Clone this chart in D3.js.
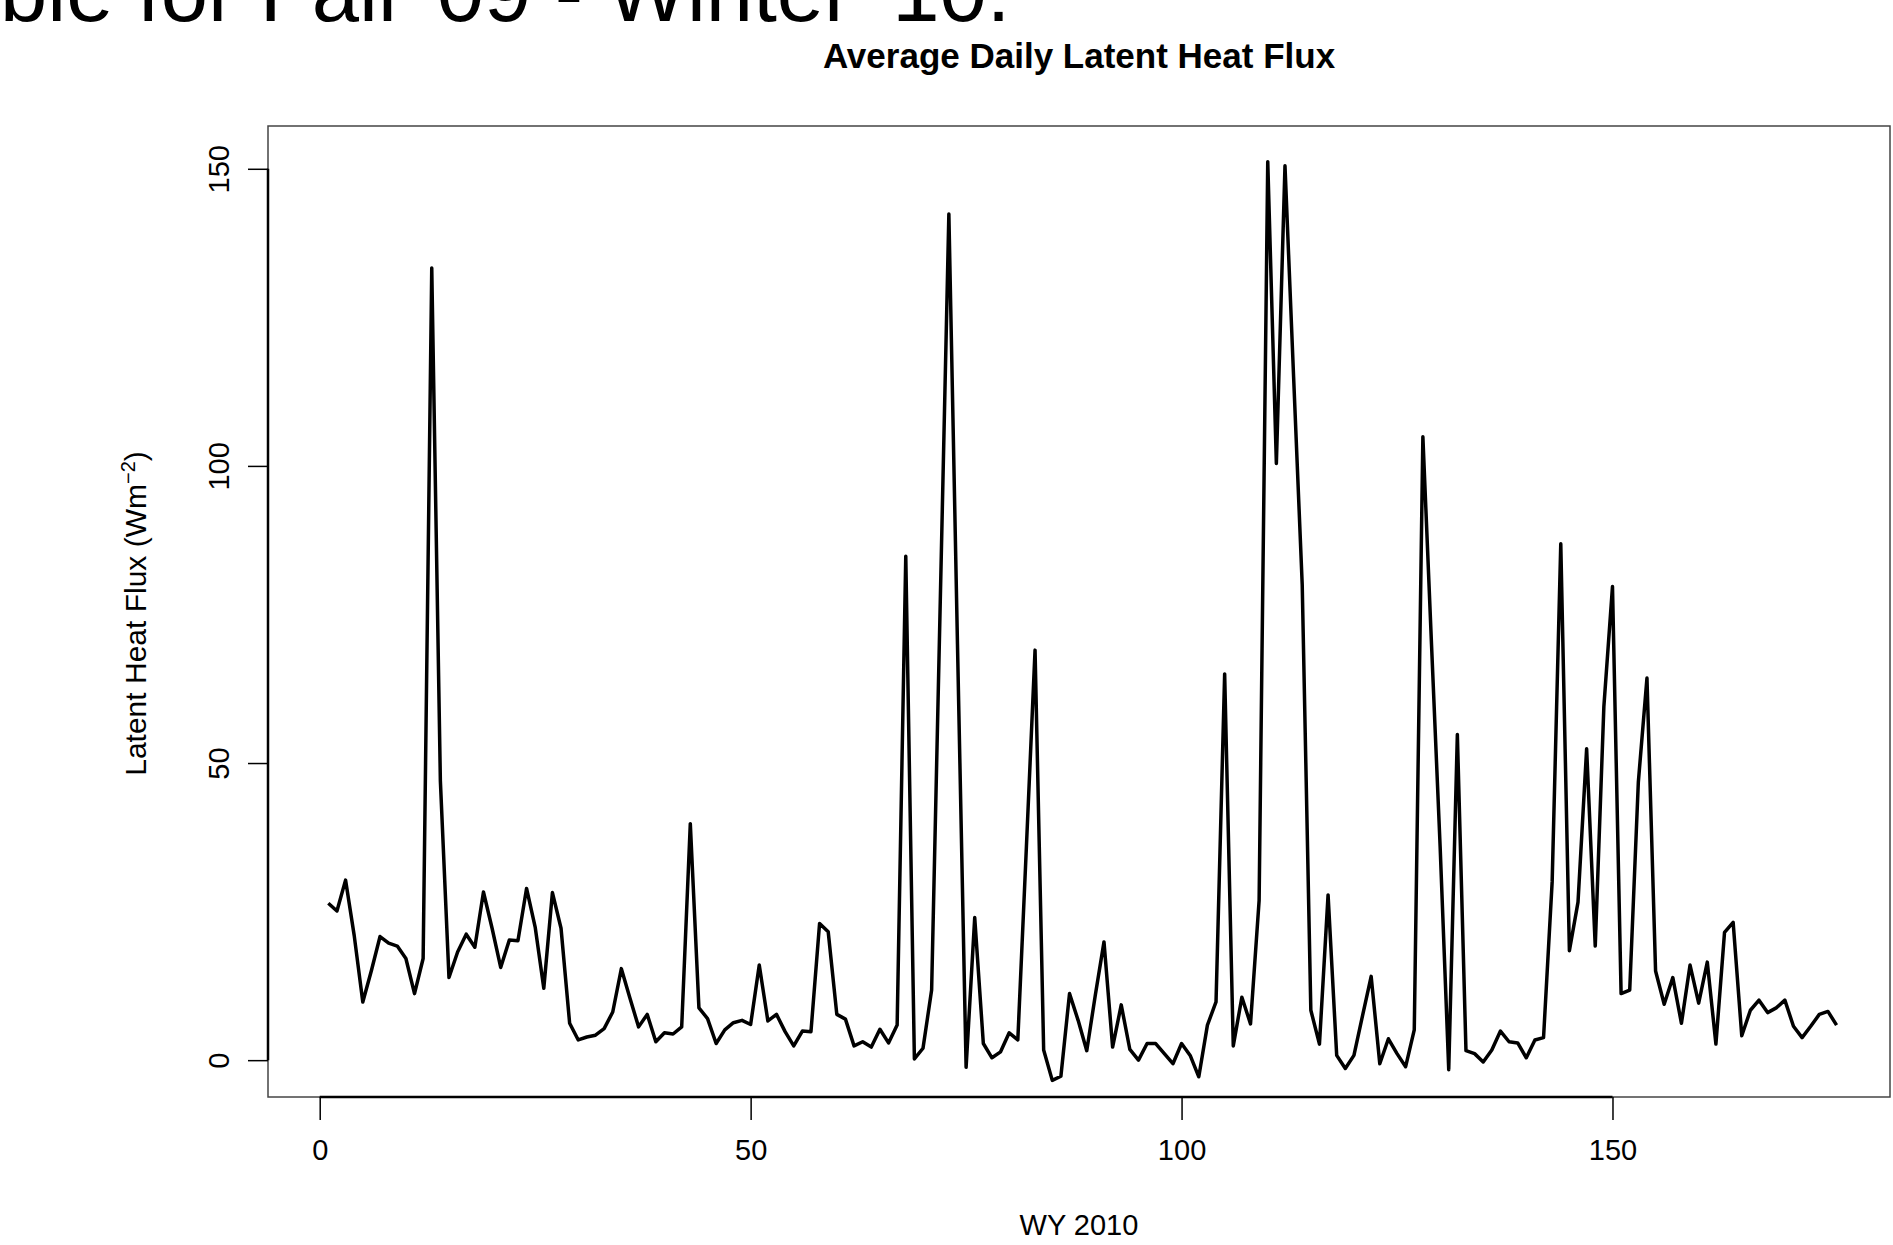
<!DOCTYPE html>
<html>
<head>
<meta charset="utf-8">
<script src="https://cdn.jsdelivr.net/npm/d3@7"></script>
<style>
  body { margin: 0; background: #fff; }
  svg { display: block; font-family: "Liberation Sans", Arial, Helvetica, sans-serif; }
</style>
</head>
<body>
<div id="chart"></div>
<script>
// daily latent heat flux, WY 2010, day 1..176
const flux = [
  26.4, 25.1, 30.3, 21.0, 9.8, 15.1, 20.8, 19.7, 19.2, 17.1,
  11.2, 17.1, 133.3, 47.0, 13.9, 18.2, 21.2, 19.0, 28.3, 22.2,
  15.6, 20.2, 20.1, 28.9, 22.4, 12.1, 28.2, 22.2, 6.2, 3.4,
  3.9, 4.2, 5.3, 8.1, 15.4, 10.4, 5.6, 7.7, 3.1, 4.6,
  4.4, 5.6, 39.8, 8.8, 7.0, 2.8, 5.1, 6.3, 6.7, 6.0,
  16.0, 6.6, 7.7, 4.8, 2.4, 4.9, 4.8, 23.0, 21.6, 7.7,
  6.9, 2.4, 3.1, 2.2, 5.2, 2.9, 5.9, 84.8, 0.2, 2.0,
  11.8, 77.0, 142.4, 70.0, -1.2, 24.0, 2.8, 0.4, 1.4, 4.6,
  3.4, 36.0, 69.0, 1.7, -3.4, -2.7, 11.2, 6.7, 1.6, 11.0,
  19.9, 2.2, 9.3, 1.8, 0.0, 2.8, 2.8, 1.1, -0.6, 2.8,
  0.8, -2.8, 5.9, 9.8, 65.0, 2.4, 10.6, 6.1, 26.9, 151.2,
  100.4, 150.5, 115.0, 80.0, 8.4, 2.7, 27.8, 0.8, -1.4, 0.8,
  7.5, 14.1, -0.6, 3.6, 1.1, -1.1, 5.1, 104.9, 70.0, 36.0,
  -1.6, 54.8, 1.6, 1.1, -0.3, 1.7, 4.9, 3.1, 2.9, 0.4,
  3.4, 3.8, 30.0, 86.9, 18.4, 26.6, 52.4, 19.2, 59.5, 79.7,
  11.2, 11.8, 46.8, 64.3, 15.0, 9.4, 13.9, 6.2, 16.0, 9.6,
  16.5, 2.7, 21.5, 23.2, 4.1, 8.4, 10.1, 8.0, 8.8, 10.1,
  5.7, 3.8, 5.7, 7.7, 8.2, 5.9
];
const xTicks = [0, 50, 100, 150];
const yTicks = [0, 50, 100, 150];
const slideText = "ble for Fall '09 - Winter '10.";
const title = "Average Daily Latent Heat Flux";
const xLabel = "WY 2010";

const svgWidth = 1893;
const svgHeight = 1245;
const plot = { left: 268, top: 126, right: 1890, bottom: 1097 };

const svg = d3.select("#chart").append("svg")
  .attr("width", svgWidth)
  .attr("height", svgHeight);

const x = d3.scaleLinear().domain([-6, 182.2]).range([plot.left, plot.right]);
const y = d3.scaleLinear().domain([-6.2, 157.2]).range([plot.bottom, plot.top]);

// leftover slide text, cut at the top edge like in the screenshot
svg.append("text")
  .attr("x", 0)
  .attr("y", 21)
  .attr("font-size", 85)
  .attr("fill", "#000")
  .text(slideText);

// title
svg.append("text")
  .attr("x", (plot.left + plot.right) / 2)
  .attr("y", 68)
  .attr("text-anchor", "middle")
  .attr("font-size", 35)
  .attr("font-weight", "bold")
  .text(title);

// plot frame
svg.append("rect")
  .attr("x", plot.left)
  .attr("y", plot.top)
  .attr("width", plot.right - plot.left)
  .attr("height", plot.bottom - plot.top)
  .attr("fill", "none")
  .attr("stroke", "#444")
  .attr("stroke-width", 1.5);

// x axis
const xAxisGroup = svg.append("g")
  .attr("transform", `translate(0,${plot.bottom})`)
  .call(d3.axisBottom(x).tickValues(xTicks).tickSize(23).tickFormat(d3.format("d")));
xAxisGroup.select(".domain").remove();
xAxisGroup.append("line")
  .attr("x1", x(xTicks[0])).attr("x2", x(xTicks[xTicks.length - 1]))
  .attr("stroke", "#000").attr("stroke-width", 2.5);
xAxisGroup.selectAll(".tick line").attr("stroke", "#000").attr("stroke-width", 1.5);
xAxisGroup.selectAll(".tick text")
  .attr("y", 63).attr("dy", 0)
  .attr("font-size", 29)
  .attr("font-family", "Liberation Sans, Arial, sans-serif")
  .attr("fill", "#000");

// y axis, labels parallel to the axis
const yAxisGroup = svg.append("g")
  .attr("transform", `translate(${plot.left},0)`)
  .call(d3.axisLeft(y).tickValues(yTicks).tickSize(20).tickFormat(d3.format("d")));
yAxisGroup.select(".domain").remove();
yAxisGroup.append("line")
  .attr("y1", y(yTicks[0])).attr("y2", y(yTicks[yTicks.length - 1]))
  .attr("stroke", "#000").attr("stroke-width", 2.5);
yAxisGroup.selectAll(".tick line").attr("stroke", "#000").attr("stroke-width", 1.5);
yAxisGroup.selectAll(".tick text")
  .attr("x", 0).attr("dy", 0)
  .attr("transform", "translate(-39,0) rotate(-90)")
  .attr("text-anchor", "middle")
  .attr("font-size", 29)
  .attr("font-family", "Liberation Sans, Arial, sans-serif")
  .attr("fill", "#000");

// axis titles
svg.append("text")
  .attr("x", (plot.left + plot.right) / 2)
  .attr("y", 1235)
  .attr("text-anchor", "middle")
  .attr("font-size", 29)
  .text(xLabel);

const yLab = svg.append("text")
  .attr("transform", `translate(146,${(plot.top + plot.bottom) / 2 + 2}) rotate(-90)`)
  .attr("text-anchor", "middle")
  .attr("font-size", 30);
yLab.append("tspan").text("Latent Heat Flux (Wm");
yLab.append("tspan").attr("dy", -11).attr("font-size", 20).text("\u22122");
yLab.append("tspan").attr("dy", 11).text(")");

// the series
const line = d3.line()
  .x((d, i) => x(i + 1))
  .y(d => y(d));

svg.append("path")
  .datum(flux)
  .attr("fill", "none")
  .attr("stroke", "#000")
  .attr("stroke-width", 3.5)
  .attr("stroke-linejoin", "round")
  .attr("d", line);
</script>
</body>
</html>
